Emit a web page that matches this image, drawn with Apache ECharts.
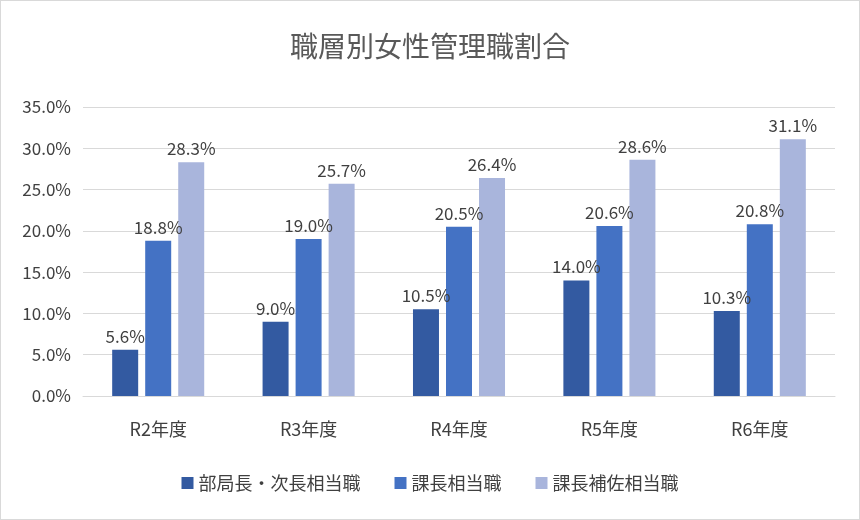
<!DOCTYPE html>
<html><head><meta charset="utf-8">
<script src="https://cdn.jsdelivr.net/npm/echarts@6/dist/echarts.min.js"></script>
<style>body{margin:0}#main{width:860px;height:520px;box-sizing:border-box;border:1px solid #d9d9d9}</style>
</head><body><div id="main"></div>
<script>
var categories = ['R2年度', 'R3年度', 'R4年度', 'R5年度', 'R6年度'];
var buchou = [5.6, 9.0, 10.5, 14.0, 10.3];
var kachou = [18.8, 19.0, 20.5, 20.6, 20.8];
var hosa = [28.3, 25.7, 26.4, 28.6, 31.1];
var names = ['部局長・次長相当職', '課長相当職', '課長補佐相当職'];
var colors = ['#335aa1', '#4472c4', '#a9b5dc'];

var font = '"Noto Sans CJK JP", sans-serif';
var myChart = echarts.init(document.getElementById('main'));

function mk(i, data) {
    return {
        name: names[i], type: 'bar', data: data, barWidth: 26, barGap: '27%',
        itemStyle: {color: colors[i]},
        label: {show: true, position: 'top', color: '#404040', fontSize: 17, fontFamily: font,
            formatter: function (p) { return p.value.toFixed(1) + '%'; }}
    };
}

myChart.setOption({
    animation: false,
    title: {text: '職層別女性管理職割合', left: 'center', top: 26,
        textStyle: {fontSize: 28, fontWeight: 'normal', color: '#595959', fontFamily: font}},
    legend: {bottom: 22, itemWidth: 12, itemHeight: 12, itemGap: 34, icon: 'rect',
        textStyle: {fontSize: 18, color: '#404040', fontFamily: font}},
    grid: {left: 82, right: 24, top: 106, bottom: 123},
    xAxis: {type: 'category', data: categories,
        axisLine: {lineStyle: {color: '#d9d9d9'}}, axisTick: {show: false},
        axisLabel: {fontSize: 18, color: '#404040', fontFamily: font, margin: 24}},
    yAxis: {type: 'value', min: 0, max: 35, interval: 5,
        axisLabel: {fontSize: 17, color: '#404040', fontFamily: font, margin: 12,
            formatter: function (v) { return v.toFixed(1) + '%'; }},
        splitLine: {lineStyle: {color: '#d9d9d9'}}},
    series: [mk(0, buchou), mk(1, kachou), mk(2, hosa)]
});
</script></body></html>
